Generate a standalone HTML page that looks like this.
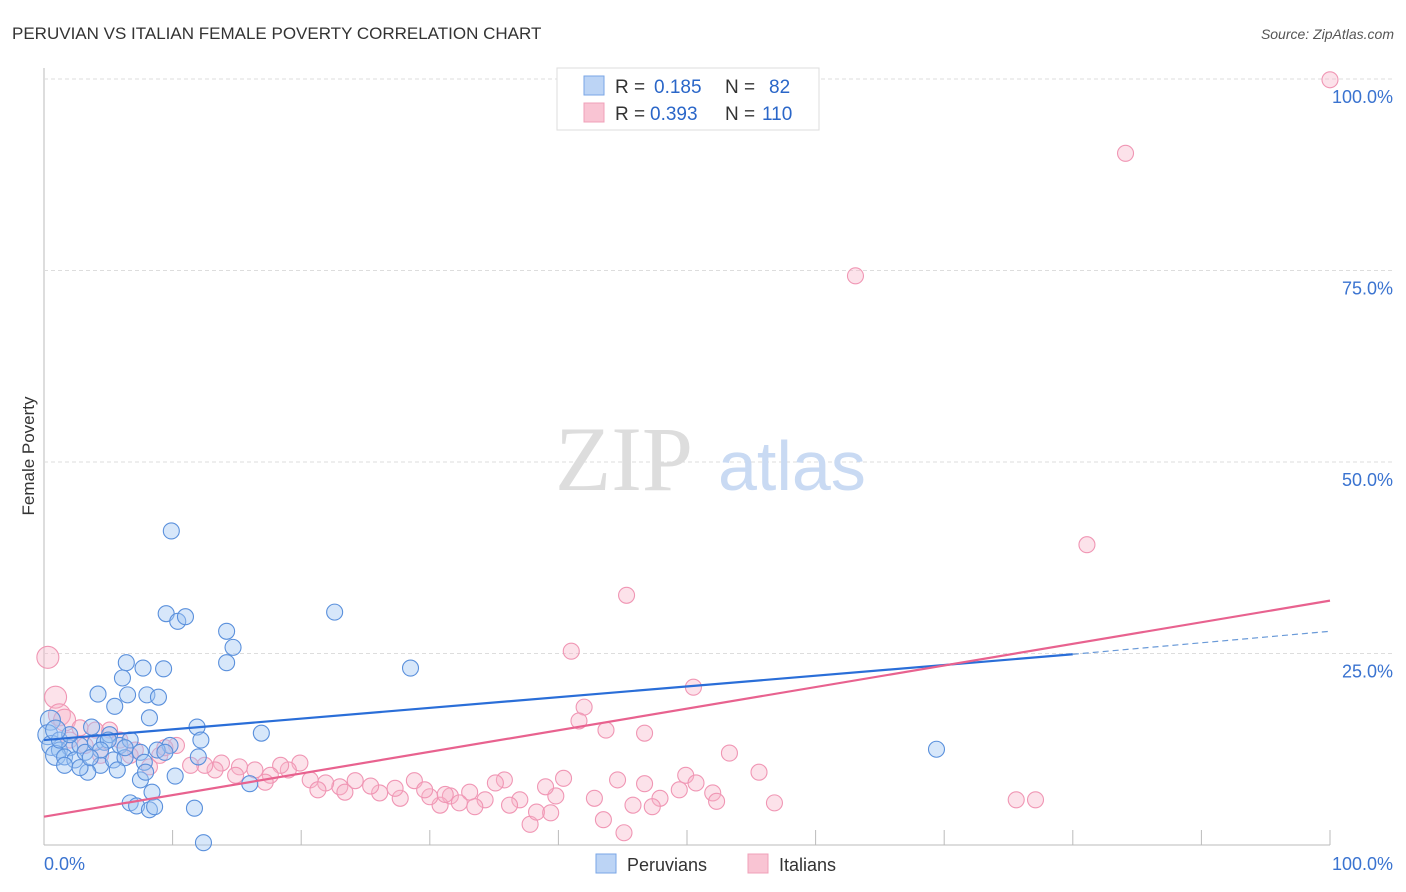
<!DOCTYPE html>
<html><head><meta charset="utf-8"><style>
body{margin:0;background:#fff;font-family:"Liberation Sans",sans-serif;}
svg{display:block}
</style></head><body>
<svg id="chart" width="1406" height="892">
<text x="12" y="39" font-size="17" fill="#333">PERUVIAN VS ITALIAN FEMALE POVERTY CORRELATION CHART</text>
<text x="1394" y="39" font-size="14" fill="#555" font-style="italic" text-anchor="end">Source: ZipAtlas.com</text>
<text x="34" y="456" font-size="17" fill="#333" text-anchor="middle" transform="rotate(-90 34 456)">Female Poverty</text>
<g id="grid"></g>
<g><text x="555" y="490" font-size="92" font-family="Liberation Serif,serif" fill="#ddd">ZIP</text><text x="718" y="490" font-size="70" fill="#c9daf3">atlas</text></g>
<g id="pts"></g>
<g id="lines"></g>
<g>
<rect x="557" y="68" width="262" height="62" fill="#fff" stroke="#ddd"/>
<rect x="584" y="76" width="20" height="19" fill="#bcd4f5" stroke="#7aa6e6"/>
<rect x="584" y="103" width="20" height="19" fill="#f9c4d3" stroke="#f0a0b8"/>
<text x="615" y="93" font-size="19" fill="#333">R =</text>
<text x="654" y="93" font-size="19" fill="#2a66c8">0.185</text>
<text x="725" y="93" font-size="19" fill="#333">N =</text>
<text x="769" y="93" font-size="19" fill="#2a66c8">82</text>
<text x="615" y="120" font-size="19" fill="#333">R =</text>
<text x="650" y="120" font-size="19" fill="#2a66c8">0.393</text>
<text x="725" y="120" font-size="19" fill="#333">N =</text>
<text x="762" y="120" font-size="19" fill="#2a66c8">110</text>
</g>
<g>
<rect x="596" y="854" width="20" height="19" fill="#bcd4f5" stroke="#7aa6e6"/>
<text x="627" y="871" font-size="18" fill="#333">Peruvians</text>
<rect x="748" y="854" width="20" height="19" fill="#f9c4d3" stroke="#f0a0b8"/>
<text x="779" y="871" font-size="18" fill="#333">Italians</text>
</g>
</svg>
<script>
const yTicks=[25,50,75,100];
const yTickLabels=["25.0%","50.0%","75.0%","100.0%"];
const xTicks=[0,10,20,30,40,50,60,70,80,90,100];
const blueX=[9.9,9.5,10.4,11,22.6,14.2,14.7,14.2,28.5,6.4,7.7,9.3,6.1,4.2,6.5,8,8.9,5.5,8.2,11.9,16.9,69.4,3.7,12.2,9.8,0.5,0.3,0.6,1.2,2,2.8,0.9,1.6,2.4,3.2,4,4.7,5.1,5.9,6.7,7.5,8.8,9.4,4.4,5.4,6.3,5.7,3.4,1.6,2.8,7.8,10.2,12,7.5,16,6.7,7.2,8.4,8.2,8.6,11.7,12.4,5,7.9,1.2,4.4,6.3,3.6,2,0.9];
const blueY=[41,30.2,29.2,29.8,30.4,27.9,25.8,23.8,23.1,23.8,23.1,23,21.8,19.7,19.6,19.6,19.3,18.1,16.6,15.4,14.6,12.5,15.4,13.7,13,16.3,14.4,13,12.4,12.7,13,11.7,11.5,11.1,12.1,13.4,13.4,14.4,13,13.7,12.1,12.4,12.1,10.4,11.1,11.4,9.8,9.5,10.4,10.1,10.8,9,11.5,8.5,8,5.5,5.1,6.9,4.6,5,4.8,0.3,13.7,9.5,13.7,12.4,12.7,11.4,14.4,15];
const pinkX=[100,84.1,63.1,81.1,45.3,41,50.5,0.3,0.9,1.2,1.6,42,41.6,43.7,46.7,53.3,55.6,49.9,50.7,52,52.3,49.4,47.9,46.7,44.6,42.8,45.8,47.3,45.1,43.5,40.4,39.8,39,56.8,75.6,77.1,37.8,38.3,39.4,35.8,35.1,34.3,33.1,31.6,32.3,30.8,30,28.8,27.7,26.1,25.4,24.2,23,21.9,20.7,19.9,19,18.4,17.6,16.4,15.2,13.8,13.3,12.5,11.4,10.3,9,8.2,7.1,5.9,5.1,4,2.8,2,3.2,4.4,6.7,9.4,21.3,23.4,14.9,17.2,27.3,37,33.5,36.2,29.6,31.2];
const pinkY=[99.9,90.3,74.3,39.2,32.6,25.3,20.6,24.5,19.3,17,16.3,18,16.2,15,14.6,12,9.5,9.1,8.1,6.8,5.7,7.2,6.1,8,8.5,6.1,5.2,5,1.6,3.3,8.7,6.4,7.6,5.5,5.9,5.9,2.7,4.3,4.2,8.5,8.1,5.9,6.9,6.4,5.5,5.2,6.3,8.4,6.1,6.8,7.7,8.4,7.6,8.1,8.5,10.7,9.8,10.4,9.1,9.8,10.2,10.7,9.8,10.4,10.4,13,11.7,10.2,12.4,13.7,15,15,15.3,13.7,13,11.7,11.7,12.7,7.2,6.9,9.1,8.2,7.4,5.9,5,5.2,7.2,6.6];
const blueLine=[13.7,24.9,27.9]; // at 0, 80, 100
const pinkLine=[3.7,31.9]; // at 0, 100
const X=v=>44+v*12.86, Y=v=>845-v*7.66;
const NS="http://www.w3.org/2000/svg";
function mk(tag,attrs,parent){const e=document.createElementNS(NS,tag);for(const k in attrs)e.setAttribute(k,attrs[k]);parent.appendChild(e);return e;}
const grid=document.getElementById('grid');
mk('line',{x1:44,y1:68,x2:44,y2:845,stroke:'#bbb'},grid);
mk('line',{x1:44,y1:845,x2:1330,y2:845,stroke:'#bbb'},grid);
yTicks.forEach((t,i)=>{
  const l=mk('line',{x1:44,y1:Y(t),x2:1394,y2:Y(t),stroke:'#ddd','stroke-dasharray':'4,3'},grid);
  
  
  const tx=mk('text',{x:1393,y:Y(t)+24,'font-size':18,fill:'#3a73d0','text-anchor':'end'},grid);
  
  
  tx.textContent=yTickLabels[i];
});
xTicks.forEach(t=>{
  const l=mk('line',{x1:X(t),y1:830,x2:X(t),y2:845,stroke:'#bbb'},grid);
  
  
});
const x0=mk('text',{x:44,y:870,'font-size':18,fill:'#3a73d0'},grid);


x0.textContent='0.0%';
const x1=mk('text',{x:1393,y:870,'font-size':18,fill:'#3a73d0','text-anchor':'end'},grid);


x1.textContent='100.0%';
const pts=document.getElementById('pts');
pinkX.forEach((v,i)=>{
  const r=v<2?11:8;
  const c=mk('circle',{cx:X(v),cy:Y(pinkY[i]),r:r,fill:'rgba(248,180,200,0.38)',stroke:'#f096b4','stroke-width':1.1},pts);
  
  
});
blueX.forEach((v,i)=>{
  const r=v<1?10:8;
  const c=mk('circle',{cx:X(v),cy:Y(blueY[i]),r:r,fill:'rgba(160,198,242,0.42)',stroke:'#5a90dc','stroke-width':1.1},pts);
  
  
});
const lines=document.getElementById('lines');
const b1=mk('line',{x1:X(0),y1:Y(blueLine[0]),x2:X(80),y2:Y(blueLine[1]),stroke:'#2a6ed8','stroke-width':2.2},lines);


const b2=mk('line',{x1:X(80),y1:Y(blueLine[1]),x2:X(100),y2:Y(blueLine[2]),stroke:'#6a9ad8','stroke-width':1.2,'stroke-dasharray':'6,4'},lines);


const p1=mk('line',{x1:X(0),y1:Y(pinkLine[0]),x2:X(100),y2:Y(pinkLine[1]),stroke:'#e8628f','stroke-width':2.2},lines);


</script>
</body></html>
